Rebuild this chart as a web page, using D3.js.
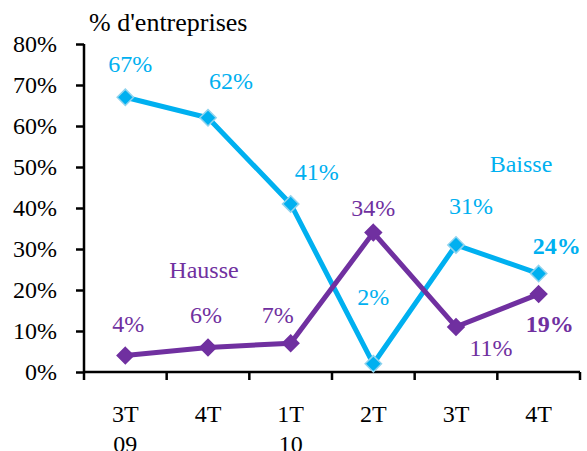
<!DOCTYPE html>
<html>
<head>
<meta charset="utf-8">
<script src="https://cdn.jsdelivr.net/npm/d3@7"></script>
<style>
  body { margin: 0; background: #fff; }
  svg text { font-family: "Times New Roman", "Liberation Serif", Tinos, "DejaVu Serif", serif; }
</style>
</head>
<body>
<svg id="chart" width="587" height="451"></svg>
<script>
// Quarters and year labels (second line under the quarter)
const quarters = ["3T", "4T", "1T", "2T", "3T", "4T"];
const years = ["09", "", "10", "", "", ""];

// Share of firms (%)
const baisse = [67, 62, 41, 2, 31, 24];
const hausse = [4, 6, 7, 34, 11, 19];

const yTicks = [0, 10, 20, 30, 40, 50, 60, 70, 80];

// label placement relative to the point
const baisseOffsets = [[5, -33], [23, -37], [26, -32], [0, -67], [15, -39], [18, -28]];
const hausseOffsets = [[3, -32], [-2, -32], [-13, -28], [0, -25], [35, 21], [11, 30]];

const blue = "#00b0f0";
const purple = "#7030a0";
const serif = "'Times New Roman', 'Liberation Serif', serif";
const fs = 24;

const svg = d3.select("#chart");

const x = d3.scaleBand()
  .domain(d3.range(quarters.length))
  .range([84, 580])
  .padding(0);

const y = d3.scaleLinear()
  .domain([0, 80])
  .range([372, 44]);

// y axis
const yAxis = svg.append("g")
  .attr("transform", "translate(84,0)")
  .call(d3.axisLeft(y).tickValues(yTicks).tickSize(8).tickPadding(19).tickFormat(d => d + "%"));
yAxis.attr("font-family", serif);
yAxis.select(".domain").attr("stroke", "#000").attr("stroke-width", 2.5).attr("d", `M0,${y(80)}V${y(0)}`);
yAxis.selectAll(".tick line").attr("stroke", "#000").attr("stroke-width", 2.5);
yAxis.selectAll(".tick text")
  .attr("font-size", fs)
  .attr("fill", "#000");

// x axis: ticks sit on the band edges
const edges = d3.range(quarters.length + 1).map(i => i < quarters.length ? x(i) : x.range()[1]);
const xAxis = svg.append("g").attr("font-family", serif);
xAxis.append("line")
  .attr("x1", x.range()[0]).attr("x2", x.range()[1])
  .attr("y1", y(0)).attr("y2", y(0))
  .attr("stroke", "#000").attr("stroke-width", 2.5);
xAxis.selectAll(".xt")
  .data(edges)
  .join("line")
  .attr("x1", d => d).attr("x2", d => d)
  .attr("y1", y(0)).attr("y2", y(0) + 8)
  .attr("stroke", "#000").attr("stroke-width", 2.5);
xAxis.selectAll(".xl")
  .data(quarters)
  .join("text")
  .attr("x", (d, i) => x(i) + x.bandwidth() / 2)
  .attr("y", 422)
  .attr("text-anchor", "middle")
  .attr("font-size", fs)
  .text(d => d);
xAxis.selectAll(".yl")
  .data(years)
  .join("text")
  .attr("x", (d, i) => x(i) + x.bandwidth() / 2)
  .attr("y", 452)
  .attr("text-anchor", "middle")
  .attr("font-size", fs)
  .text(d => d);

// unit title
svg.append("text")
  .attr("x", 89).attr("y", 31)
  .attr("font-family", serif)
  .attr("font-size", 26)
  .text("% d'entreprises");

const line = d3.line()
  .x((d, i) => x(i) + x.bandwidth() / 2)
  .y(d => y(d));

const diamond = d3.symbol().type(d3.symbolDiamond2).size(170);

function drawSeries(values, offsets, color, markerStroke) {
  const g = svg.append("g").attr("font-family", serif);
  g.append("path")
    .datum(values)
    .attr("d", line)
    .attr("fill", "none")
    .attr("stroke", color)
    .attr("stroke-width", 5);
  g.selectAll("path.m")
    .data(values)
    .join("path")
    .attr("class", "m")
    .attr("d", diamond)
    .attr("transform", (d, i) => `translate(${x(i) + x.bandwidth() / 2},${y(d)})`)
    .attr("fill", color)
    .attr("stroke", markerStroke)
    .attr("stroke-width", 1.5);
  g.selectAll("text")
    .data(values)
    .join("text")
    .attr("x", (d, i) => x(i) + x.bandwidth() / 2 + offsets[i][0])
    .attr("y", (d, i) => y(d) + offsets[i][1] + 8)
    .attr("text-anchor", "middle")
    .attr("font-size", fs)
    .attr("font-weight", (d, i) => i === values.length - 1 ? "bold" : null)
    .attr("fill", color)
    .text(d => d + "%");
}

drawSeries(baisse, baisseOffsets, blue, "#8fd3ee");
drawSeries(hausse, hausseOffsets, purple, purple);

// series names
svg.append("text")
  .attr("x", 521).attr("y", 172)
  .attr("text-anchor", "middle")
  .attr("font-family", serif)
  .attr("font-size", fs)
  .attr("fill", blue)
  .text("Baisse");
svg.append("text")
  .attr("x", 204).attr("y", 278)
  .attr("text-anchor", "middle")
  .attr("font-family", serif)
  .attr("font-size", fs)
  .attr("fill", purple)
  .text("Hausse");
</script>
</body>
</html>
